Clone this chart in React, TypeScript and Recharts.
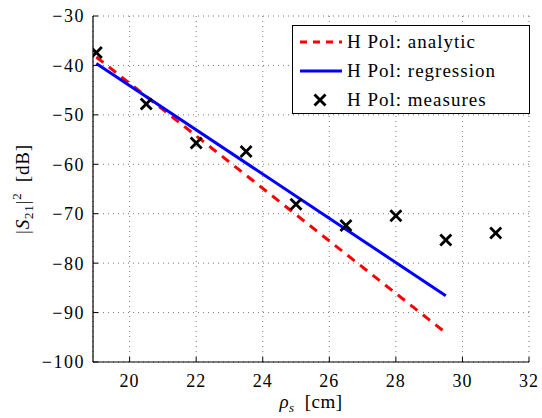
import React from 'react';
import {
  ComposedChart,
  Line,
  Scatter,
  XAxis,
  YAxis,
  CartesianGrid,
  Legend,
} from 'recharts';

const xTicks = [20, 22, 24, 26, 28, 30, 32];
const yTicks = [-100, -90, -80, -70, -60, -50, -40, -30];

// measured points
const measureRho = [19, 20.5, 22, 23.5, 25, 26.5, 28, 29.5, 31];
const measureDb = [-37.4, -47.8, -55.7, -57.4, -68.1, -72.4, -70.4, -75.3, -73.9];

// analytic model (end points)
const analyticRho = [19, 29.5];
const analyticDb = [-38.3, -94.1];

// regression fit (end points)
const regressionRho = [19, 29.5];
const regressionDb = [-39.6, -86.6];

const seriesNames = ['H Pol: analytic', 'H Pol: regression', 'H Pol: measures'];

const toPoints = (xs: number[], ys: number[]) => xs.map((x, i) => ({ x, y: ys[i] }));

const measures = toPoints(measureRho, measureDb);
const analytic = toPoints(analyticRho, analyticDb);
const regression = toPoints(regressionRho, regressionDb);

const FONT = '"Liberation Serif", "Times New Roman", serif';
const minus = (v: number) => String(v).replace('-', '\u2212');

const XMark = (props: any) => {
  const { cx, cy } = props;
  if (cx == null || cy == null) return null;
  const r = 5.5;
  return (
    <g stroke="#000" strokeWidth={2.8}>
      <line x1={cx - r} y1={cy - r} x2={cx + r} y2={cy + r} />
      <line x1={cx - r} y1={cy + r} x2={cx + r} y2={cy - r} />
    </g>
  );
};

const XLabel = (props: any) => {
  const { viewBox } = props;
  const cx = viewBox.x + viewBox.width / 2;
  return (
    <text x={cx} y={viewBox.y + 46} textAnchor="middle" fontFamily={FONT} fontSize={19} fill="#000" letterSpacing={0.5}>
      <tspan fontStyle="italic">ρ</tspan>
      <tspan fontStyle="italic" fontSize={13} dy={4}>s</tspan>
      <tspan dy={-4}>{'\u2002[cm]'}</tspan>
    </text>
  );
};

const YLabel = (props: any) => {
  const { viewBox } = props;
  const cy = viewBox.y + viewBox.height / 2;
  const x = 29;
  return (
    <text
      x={x}
      y={cy}
      transform={`rotate(-90, ${x}, ${cy})`}
      textAnchor="middle"
      fontFamily={FONT}
      fontSize={19}
      fill="#000"
      letterSpacing={0.8}
    >
      <tspan>|</tspan>
      <tspan fontStyle="italic">S</tspan>
      <tspan fontSize={13} dy={4}>21</tspan>
      <tspan dy={-4}>|</tspan>
      <tspan fontSize={13} dy={-8}>2</tspan>
      <tspan dy={8}>{'\u2002[dB]'}</tspan>
    </text>
  );
};

const LegendBox = () => {
  const row: React.CSSProperties = {
    display: 'flex',
    alignItems: 'center',
    height: 29,
  };
  const text: React.CSSProperties = {
    fontFamily: FONT,
    fontSize: 19,
    letterSpacing: 1,
    color: '#000',
    marginLeft: 5,
    whiteSpace: 'nowrap',
  };
  return (
    <div
      style={{
        border: '1.5px solid #000',
        background: '#fff',
        width: 229,
        height: 86,
        boxSizing: 'content-box',
        paddingLeft: 7,
        paddingTop: 1,
      }}
    >
      <div style={row}>
        <svg width={42} height={10}>
          <line x1={0} y1={5} x2={42} y2={5} stroke="#ff0000" strokeWidth={3} strokeDasharray="7 6" />
        </svg>
        <span style={text}>{seriesNames[0]}</span>
      </div>
      <div style={row}>
        <svg width={42} height={10}>
          <line x1={0} y1={5} x2={42} y2={5} stroke="#0000ff" strokeWidth={3} />
        </svg>
        <span style={text}>{seriesNames[1]}</span>
      </div>
      <div style={row}>
        <svg width={42} height={16}>
          <XMark cx={20} cy={8} />
        </svg>
        <span style={text}>{seriesNames[2]}</span>
      </div>
    </div>
  );
};

export default function App() {
  return (
    <div style={{ position: 'absolute', left: 0, top: 0, background: '#fff' }}>
      <ComposedChart width={542} height={418} margin={{ top: 16, right: 13, left: 0, bottom: 0 }}>
        <CartesianGrid stroke="#777" strokeDasharray="1 4" strokeWidth={1} />
        <XAxis
          type="number"
          dataKey="x"
          domain={[18.9, 32]}
          ticks={xTicks}
          allowDataOverflow
          height={56}
          axisLine={{ stroke: '#000', strokeWidth: 1.2 }}
          tickLine={{ stroke: '#000' }}
          tickSize={-5}
          tickMargin={17}
          tick={{ fontFamily: FONT, fontSize: 18, fill: '#000', letterSpacing: 1 }}
          label={<XLabel />}
        />
        <YAxis
          type="number"
          dataKey="y"
          domain={[-100, -30]}
          ticks={yTicks}
          allowDataOverflow
          width={93}
          axisLine={{ stroke: '#000', strokeWidth: 1.2 }}
          tickLine={{ stroke: '#000' }}
          tickSize={-5}
          tickMargin={13}
          tickFormatter={minus}
          tick={{ fontFamily: FONT, fontSize: 18, fill: '#000', letterSpacing: 1.5 }}
          label={<YLabel />}
        />
        <Line
          data={analytic}
          dataKey="y"
          type="linear"
          stroke="#ff0000"
          strokeWidth={3}
          strokeDasharray="9 7"
          dot={false}
          isAnimationActive={false}
        />
        <Line
          data={regression}
          dataKey="y"
          type="linear"
          stroke="#0000ff"
          strokeWidth={3}
          dot={false}
          isAnimationActive={false}
        />
        <Scatter data={measures} dataKey="y" shape={XMark} isAnimationActive={false} />
        <Legend
          layout="vertical"
          align="center"
          verticalAlign="middle"
          wrapperStyle={{ left: 292, top: 25, width: 240 }}
          content={() => <LegendBox />}
        />
      </ComposedChart>
    </div>
  );
}
